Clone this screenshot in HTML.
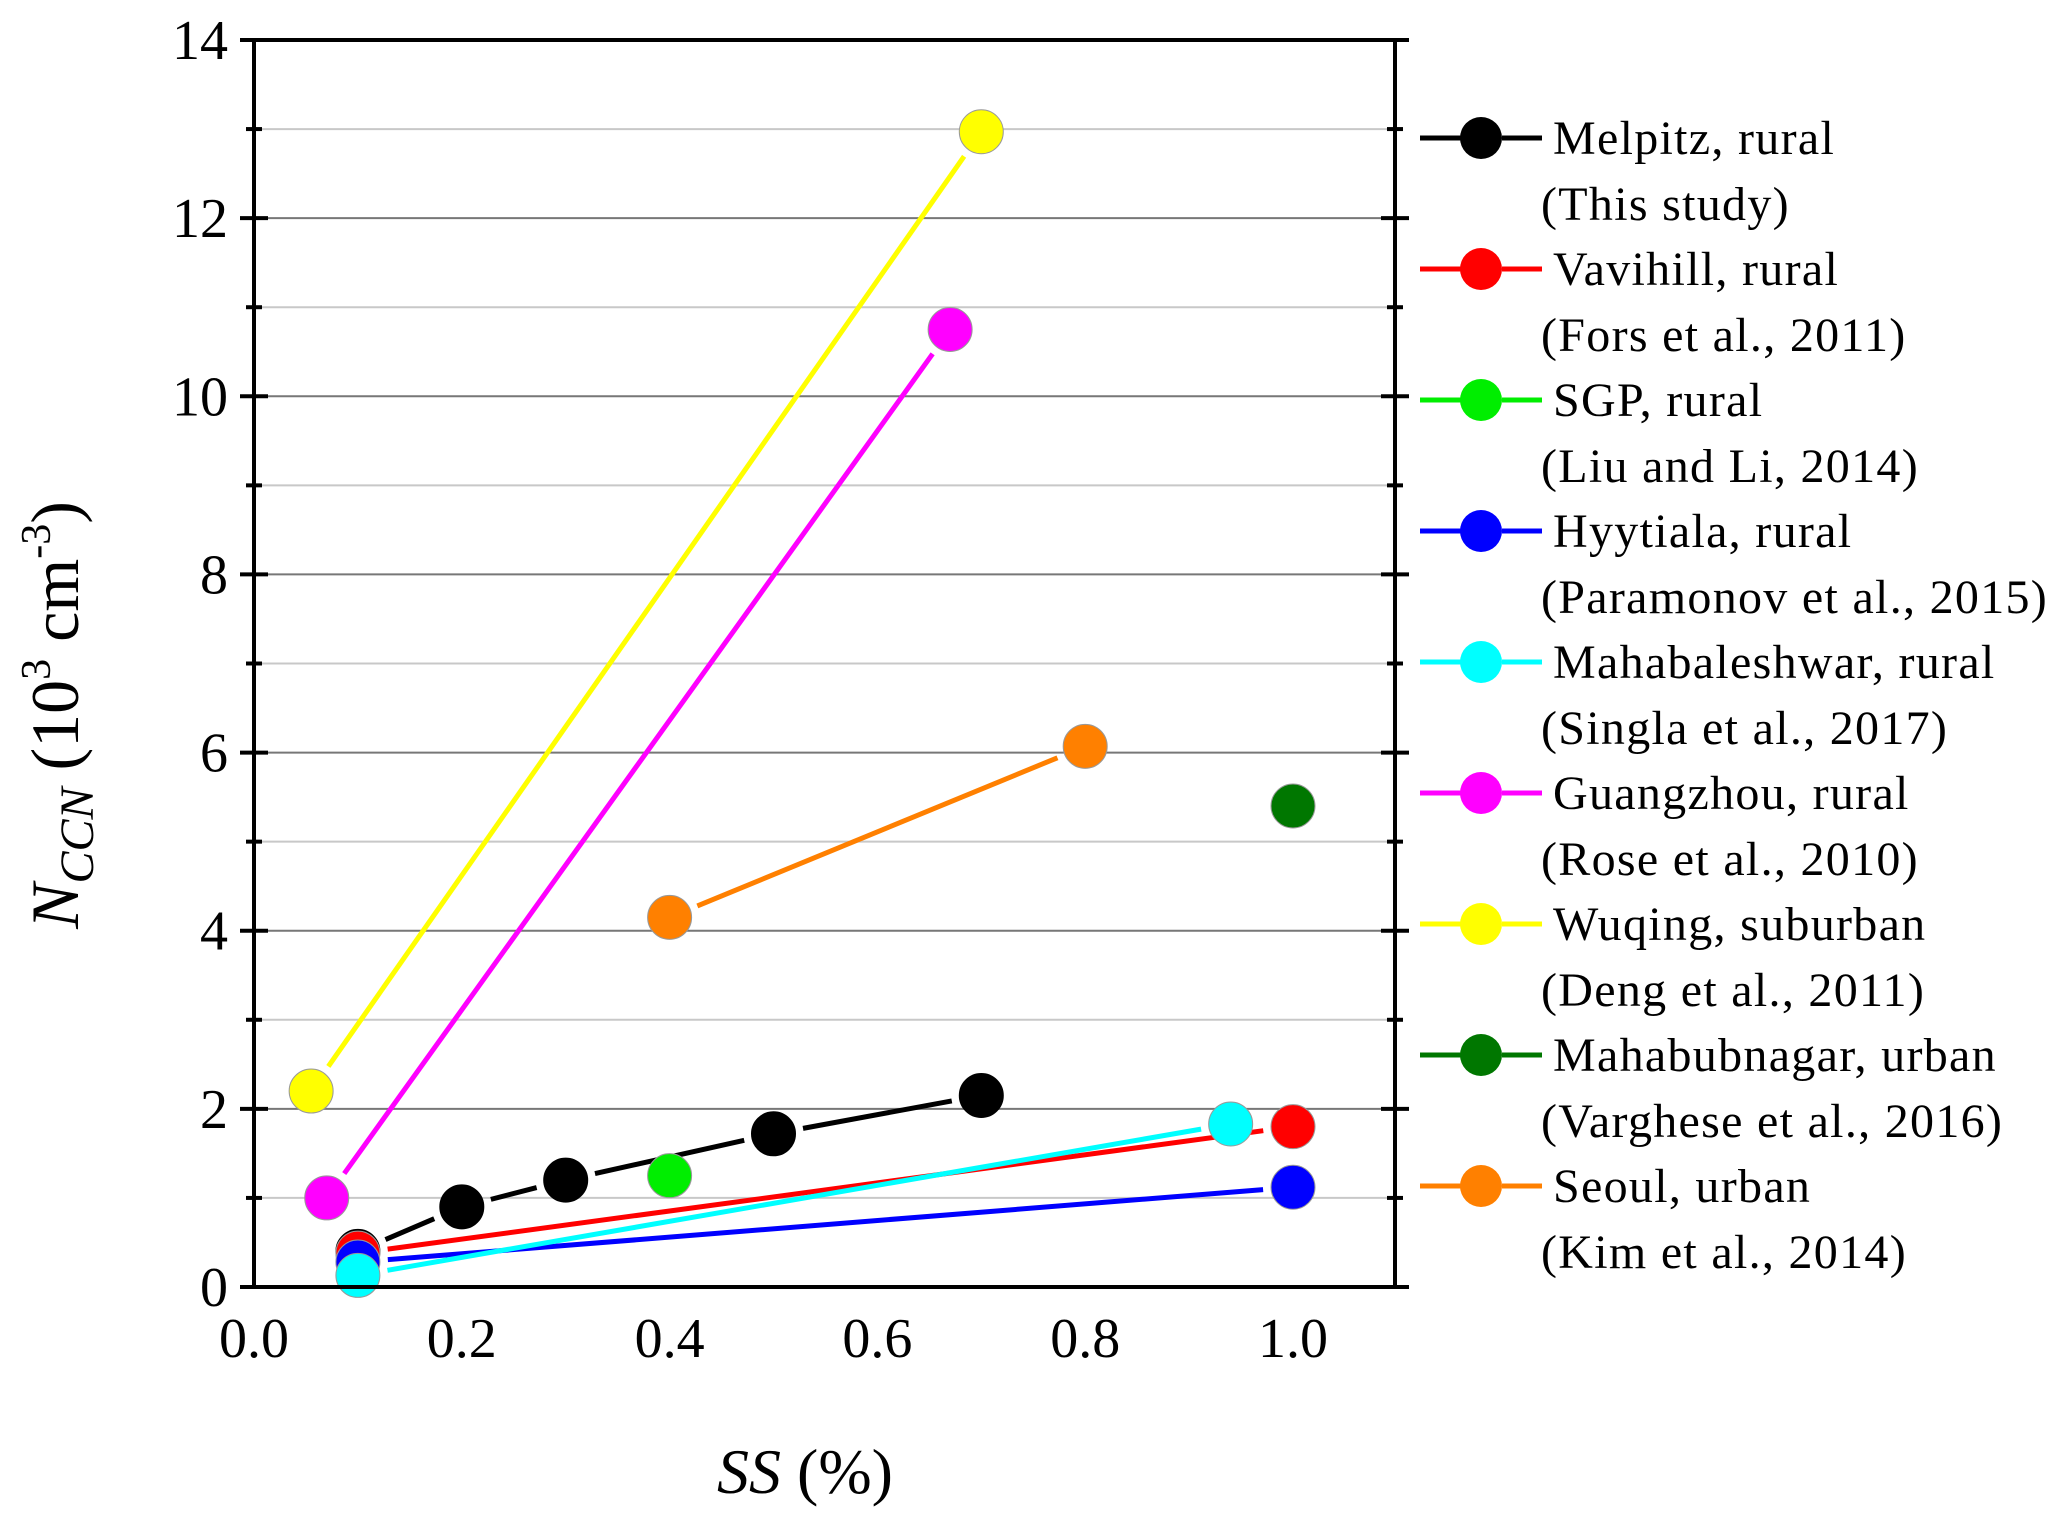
<!DOCTYPE html>
<html><head><meta charset="utf-8"><style>
body{margin:0;background:#fff}
svg{display:block;font-family:"Liberation Serif",serif}
</style></head><body>
<svg id="chart" width="2067" height="1522" viewBox="0 0 2067 1522" xmlns="http://www.w3.org/2000/svg">
<g id="grid"></g>
<g id="series"></g>
<rect x="254" y="40" width="1141" height="1247" fill="none" stroke="#000" stroke-width="4"/>
<g id="axes"></g>
<text transform="translate(78,715) rotate(-90)" text-anchor="middle" font-size="68"><tspan font-style="italic">N</tspan><tspan font-style="italic" font-size="48" dy="15">CCN</tspan><tspan dy="-15"> (10</tspan><tspan font-size="42" dy="-28">3</tspan><tspan dy="28"> cm</tspan><tspan font-size="42" dy="-28">-3</tspan><tspan dy="28">)</tspan></text>
<text x="805" y="1493" text-anchor="middle" font-size="64"><tspan font-style="italic">SS</tspan> (%)</text>
<g id="legend"></g>
</svg>
<script>
const xTicks=[0.0,0.2,0.4,0.6,0.8,1.0];
const xTickLabels=["0.0","0.2","0.4","0.6","0.8","1.0"];
const yTicks=[0,2,4,6,8,10,12,14];
const seriesNames=["Melpitz, rural","Vavihill, rural","SGP, rural","Hyytiala, rural","Mahabaleshwar, rural","Guangzhou, rural","Wuqing, suburban","Mahabubnagar, urban","Seoul, urban"];
const seriesRefs=["(This study)","(Fors et al., 2011)","(Liu and Li, 2014)","(Paramonov et al., 2015)","(Singla et al., 2017)","(Rose et al., 2010)","(Deng et al., 2011)","(Varghese et al., 2016)","(Kim et al., 2014)"];
const seriesColors=["#000000","#ff0000","#00ee00","#0000ff","#00ffff","#ff00ff","#ffff00","#007700","#ff8000"];
const melpitzX=[0.1,0.2,0.3,0.5,0.7], melpitzY=[0.4,0.9,1.2,1.72,2.15];
const vavihillX=[0.1,1.0], vavihillY=[0.38,1.8];
const sgpX=[0.4], sgpY=[1.25];
const hyytialaX=[0.1,1.0], hyytialaY=[0.28,1.12];
const mahabaleshwarX=[0.1,0.94], mahabaleshwarY=[0.13,1.83];
const guangzhouX=[0.07,0.67], guangzhouY=[1.0,10.75];
const wuqingX=[0.055,0.7], wuqingY=[2.2,12.97];
const mahabubnagarX=[1.0], mahabubnagarY=[5.4];
const seoulX=[0.4,0.8], seoulY=[4.15,6.07];
const NS="http://www.w3.org/2000/svg";
const L=254,R=1395,T=40,B=1287;
const xs=v=>L+v*(1293-L);
const ys=v=>B-v*(B-T)/14;
function mk(tag,attrs,parent){const e=document.createElementNS(NS,tag);for(const k in attrs)e.setAttribute(k,attrs[k]);parent.appendChild(e);return e;}
const grid=document.getElementById('grid'),axes=document.getElementById('axes'),ser=document.getElementById('series'),leg=document.getElementById('legend');
for(let v=1;v<14;v++){const g=mk('line',{x1:L,x2:R,y1:ys(v),y2:ys(v),stroke:v%2?'#c8c8c8':'#777','stroke-width':2},grid);

}
for(let v=0;v<=14;v++){const len=v%2?8:14;
for(const x0 of [L,R]){const t=mk('line',{x1:x0-len,x2:x0+len,y1:ys(v),y2:ys(v),stroke:'#000','stroke-width':4},axes);

}}
yTicks.forEach(v=>{const t=mk('text',{x:L-26,y:ys(v)+19,'text-anchor':'end','font-size':56},axes);t.textContent=v;

});
xTicks.forEach((v,i)=>{const t=mk('text',{x:xs(v),y:B+70,'text-anchor':'middle','font-size':56},axes);t.textContent=xTickLabels[i];

});
const allX=[melpitzX,vavihillX,sgpX,hyytialaX,mahabaleshwarX,guangzhouX,wuqingX,mahabubnagarX,seoulX];
const allY=[melpitzY,vavihillY,sgpY,hyytialaY,mahabaleshwarY,guangzhouY,wuqingY,mahabubnagarY,seoulY];
const r=22,gap=30;
allX.forEach((X,s)=>{const Y=allY[s],c=seriesColors[s];
for(let i=0;i<X.length-1;i++){let x1=xs(X[i]),y1=ys(Y[i]),x2=xs(X[i+1]),y2=ys(Y[i+1]);const d=Math.hypot(x2-x1,y2-y1),ux=(x2-x1)/d,uy=(y2-y1)/d;
const l=mk('line',{x1:x1+ux*gap,y1:y1+uy*gap,x2:x2-ux*gap,y2:y2-uy*gap,stroke:c,'stroke-width':5},ser);

}});
allX.forEach((X,s)=>{const Y=allY[s],c=seriesColors[s];
X.forEach((x,i)=>{const p=mk('circle',{cx:xs(x),cy:ys(Y[i]),r:r,fill:c,stroke:c=='#000000'?'#000':'#999','stroke-width':1},ser);

});});
seriesNames.forEach((n,i)=>{const y=138+i*131,c=seriesColors[i];
const a=mk('line',{x1:1420,x2:1462,y1:y,y2:y,stroke:c,'stroke-width':5},leg);


const b=mk('line',{x1:1502,x2:1542,y1:y,y2:y,stroke:c,'stroke-width':5},leg);


const m=mk('circle',{cx:1481,cy:y,r:21,fill:c},leg);


const t1=mk('text',{x:1553,y:y+16,'font-size':48,'letter-spacing':1.3},leg);t1.textContent=n;


const t2=mk('text',{x:1541,y:y+82,'font-size':48,'letter-spacing':1.3},leg);t2.textContent=seriesRefs[i];

});
</script>
</body></html>
